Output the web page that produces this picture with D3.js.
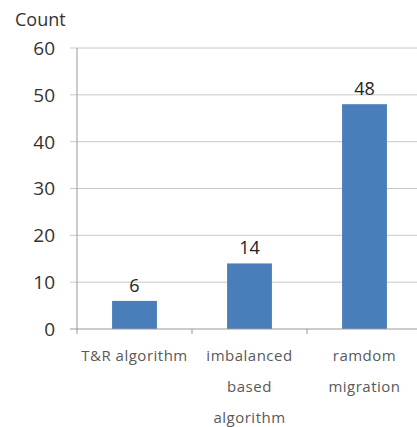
<!DOCTYPE html>
<html>
<head>
<meta charset="utf-8">
<script src="https://cdn.jsdelivr.net/npm/d3@7"></script>
<style>
  body { margin: 0; background: #fff; }
  svg { display: block; font-family: "Open Sans", "Noto Sans", sans-serif; }
</style>
</head>
<body>
<div id="chart"></div>
<script>
const categories = [["T&R algorithm"], ["imbalanced", "based", "algorithm"], ["ramdom", "migration"]];
const counts = [6, 14, 48];
const yTicks = [0, 10, 20, 30, 40, 50, 60];

const width = 417, height = 427;
const margin = { top: 48, right: -5, bottom: 98, left: 77 };

const svg = d3.select("#chart").append("svg")
    .attr("width", width)
    .attr("height", height);

const x = d3.scaleBand()
    .domain(d3.range(categories.length))
    .range([margin.left, width - margin.right])
    .paddingInner(0.61)
    .paddingOuter(0.305);

const y = d3.scaleLinear()
    .domain([0, 60])
    .range([height - margin.bottom, margin.top]);

// gridlines
svg.append("g")
    .selectAll("line")
    .data(yTicks.slice(1))
    .join("line")
    .attr("x1", margin.left - 7)
    .attr("x2", width)
    .attr("y1", d => y(d))
    .attr("y2", d => y(d))
    .attr("stroke", "#c8c8c8")
    .attr("stroke-width", 1);

// y axis labels
svg.append("g")
    .selectAll("text")
    .data(yTicks)
    .join("text")
    .attr("x", 55)
    .attr("y", d => y(d))
    .attr("dy", "0.36em")
    .attr("text-anchor", "end")
    .attr("font-size", 19)
    .attr("fill", "#333")
    .text(d => d);

svg.append("text")
    .attr("x", 15)
    .attr("y", 26)
    .attr("font-size", 18)
    .attr("fill", "#333")
    .text("Count");

// bars
svg.append("g")
    .selectAll("rect")
    .data(counts)
    .join("rect")
    .attr("x", (d, i) => x(i))
    .attr("y", d => y(d))
    .attr("width", x.bandwidth())
    .attr("height", d => y(0) - y(d))
    .attr("fill", "#4a7ebb");

// value labels
svg.append("g")
    .selectAll("text")
    .data(counts)
    .join("text")
    .attr("x", (d, i) => x(i) + x.bandwidth() / 2)
    .attr("y", d => y(d) - 9)
    .attr("text-anchor", "middle")
    .attr("font-size", 18)
    .attr("fill", "#222")
    .text(d => d);

// axes lines
svg.append("line")
    .attr("x1", margin.left).attr("x2", margin.left)
    .attr("y1", y(60)).attr("y2", y(0) + 5)
    .attr("stroke", "#999");

svg.append("line")
    .attr("x1", margin.left - 7).attr("x2", width)
    .attr("y1", y(0)).attr("y2", y(0))
    .attr("stroke", "#999");

// category ticks
const step = x.step();
svg.append("g")
    .selectAll("line")
    .data(d3.range(1, categories.length))
    .join("line")
    .attr("x1", d => margin.left + d * step)
    .attr("x2", d => margin.left + d * step)
    .attr("y1", y(0))
    .attr("y2", y(0) + 5)
    .attr("stroke", "#999");

// category labels
svg.append("g")
    .selectAll("text")
    .data(categories)
    .join("text")
    .attr("x", (d, i) => x(i) + x.bandwidth() / 2)
    .attr("y", y(0) + 32)
    .attr("text-anchor", "middle")
    .attr("font-size", 15)
    .attr("letter-spacing", 0.5)
    .attr("fill", "#595959")
    .each(function (lines) {
        d3.select(this).selectAll("tspan")
            .data(lines)
            .join("tspan")
            .attr("x", d3.select(this).attr("x"))
            .attr("dy", (l, j) => j === 0 ? 0 : 31)
            .text(l => l);
    });
</script>
</body>
</html>
